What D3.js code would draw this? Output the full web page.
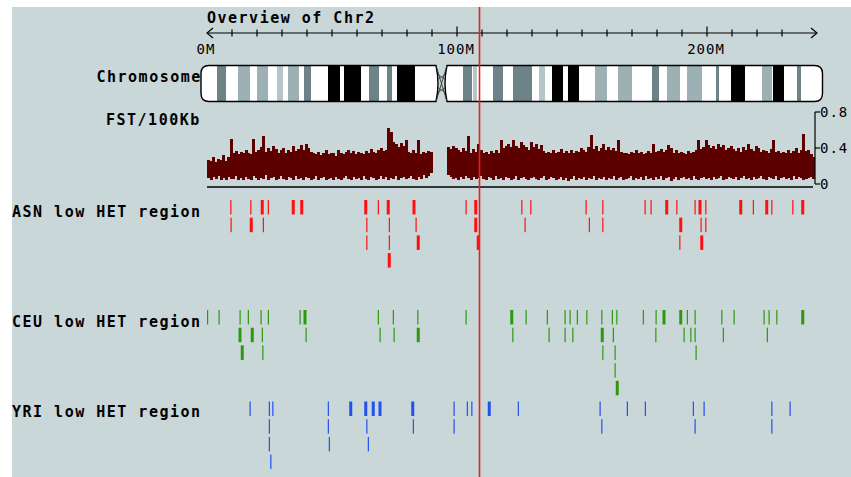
<!DOCTYPE html>
<html><head><meta charset="utf-8">
<script src="https://cdn.jsdelivr.net/npm/d3@7"></script>
<style>
body{margin:0;background:#fff;}
text{font-family:"DejaVu Sans Mono",monospace;fill:#000;}
.bold{font-weight:bold;font-size:15px;letter-spacing:1.5px;}
.small{font-size:14px;letter-spacing:1px;}
</style>
</head><body><svg id="c" width="851" height="477"></svg>
<script>
// ---------------- data ----------------
const chrName = "Chr2";
const chrLength = 243; // Mb
const axisMinorTicks = d3.range(10, 240, 10);
const axisMajorTicks = [100, 200];
const axisLabelValues = [0, 100, 200];
const axisLabels = ["0M", "100M", "200M"];

// cytobands (Mb) and stain class
const bandStart = [4, 12.4, 20, 28, 32.4, 38.8, 48.4, 54.8, 64.8, 72, 76, 102.4, 106.4, 114.4, 122.4, 132.8, 138, 144.4, 155.2, 164.4, 178, 184, 192, 203.6, 209.6, 222, 226.4, 236];
const bandEnd   = [7.6, 17.2, 24.4, 30.4, 36.8, 41.6, 53.2, 61.6, 68.8, 74, 83.2, 106, 108, 118.4, 130, 135.2, 142.4, 148.8, 160, 170, 180.8, 189.2, 198, 204.8, 215.2, 226, 230.8, 237.6];
const bandStain = ["gpos75","gpos50","gpos50","gpos25","gpos50","gpos75","gpos100","gpos100","gpos75","gpos75","gpos100","gpos75","gpos25","gpos75","gpos75","gpos25","gpos100","gpos100","gpos50","gpos50","gpos75","gpos50","gpos50","gpos75","gpos100","gpos50","gpos100","gpos75"];
const centromere = [91.6, 96];

// FST per 1 Mb bin (max and min of the 100Kb values)
const fstTicks = [0, 0.4, 0.8];
const fstTickLabels = ["0", "0.4", "0.8"];
const fstHigh = [
 .27,.26,.30,.25,.28,.27,.32,.26,.30,.50,
 .35,.37,.33,.36,.34,.38,.35,.33,.50,.36,
 .38,.41,.53,.36,.40,.37,.42,.39,.35,.38,
 .40,.34,.38,.36,.42,.37,.39,.43,.38,.45,
 .40,.36,.35,.33,.36,.32,.35,.38,.33,.35,
 .34,.31,.38,.35,.33,.36,.38,.34,.37,.33,
 .36,.35,.33,.37,.34,.39,.36,.35,.38,.40,
 .37,.38,.62,.58,.47,.44,.41,.46,.42,.49,
 .36,.34,.38,.35,.49,.33,.36,.34,.37,.36,
 null,null,null,null,null,null,.41,.39,.42,.40,
 .38,.36,.40,.37,.53,.35,.39,.36,.45,.38,
 .34,.36,.33,.37,.35,.38,.34,.49,.40,.42,
 .45,.41,.49,.42,.40,.47,.43,.41,.38,.47,
 .41,.44,.39,.43,.37,.35,.36,.34,.38,.35,
 .36,.39,.34,.37,.35,.38,.34,.37,.36,.40,
 .38,.36,.41,.54,.39,.42,.37,.40,.45,.38,
 .41,.38,.40,.37,.49,.36,.34,.35,.33,.36,
 .35,.38,.34,.36,.33,.35,.37,.34,.45,.36,
 .37,.39,.36,.38,.43,.40,.35,.38,.34,.36,
 .35,.33,.37,.34,.36,.38,.49,.39,.41,.49,
 .43,.40,.42,.39,.44,.41,.43,.38,.40,.42,
 .39,.37,.40,.36,.41,.38,.45,.39,.37,.42,
 .40,.36,.38,.37,.35,.39,.49,.36,.37,.35,
 .36,.34,.38,.35,.37,.40,.34,.38,.56,.37,
 .38,.33,.30];
const fstLow = [
 .07,.05,.08,.06,.09,.05,.07,.04,.08,.06,
 .06,.09,.05,.07,.04,.08,.06,.05,.09,.07,
 .05,.07,.06,.10,.04,.07,.08,.05,.06,.09,
 .06,.04,.08,.07,.05,.09,.06,.07,.05,.08,
 .07,.05,.06,.09,.04,.07,.08,.05,.06,.07,
 .05,.08,.06,.04,.07,.09,.06,.05,.08,.06,
 .07,.05,.09,.06,.04,.08,.07,.05,.06,.09,
 .06,.08,.05,.07,.06,.09,.05,.07,.08,.06,
 .07,.09,.06,.05,.08,.06,.10,.07,.09,.12,
 null,null,null,null,null,null,.10,.08,.06,.07,
 .05,.08,.06,.09,.07,.05,.08,.06,.07,.09,
 .06,.05,.08,.07,.04,.09,.06,.07,.05,.08,
 .07,.05,.06,.09,.04,.07,.08,.06,.05,.07,
 .08,.06,.04,.07,.09,.05,.06,.08,.07,.05,
 .06,.08,.05,.07,.03,.06,.09,.05,.07,.06,
 .08,.05,.07,.06,.09,.04,.07,.06,.08,.05,
 .07,.06,.09,.05,.07,.08,.04,.06,.07,.09,
 .05,.07,.06,.08,.05,.09,.06,.07,.04,.08,
 .06,.09,.05,.07,.08,.03,.06,.08,.05,.07,
 .08,.06,.07,.05,.09,.06,.04,.07,.08,.06,
 .07,.05,.08,.06,.07,.09,.05,.06,.08,.07,
 .06,.08,.05,.07,.09,.06,.07,.05,.08,.06,
 .07,.09,.06,.05,.08,.07,.06,.09,.05,.07,
 .08,.06,.07,.05,.09,.06,.08,.07,.05,.06,
 .07,.08,.06];

// low heterozygosity regions: [startMb, endMb, lane]
const asnRegions = [
 [9.3,9.7,0],[17.3,17.7,0],[21.5,22.7,0],[24.3,24.7,0],[33.9,35.1,0],[37.3,38.5,0],[62.9,64.1,0],[68.3,68.7,0],[71.9,73.1,0],[82.2,83.4,0],
 [103.4,103.8,0],[106.9,108.1,0],[125.7,126.1,0],[129.3,129.7,0],[151.4,151.8,0],[158.1,158.5,0],[175.0,175.4,0],[177.4,177.8,0],[183.3,184.5,0],
 [187.7,188.1,0],[195.0,195.4,0],[196.6,197.8,0],[199.3,199.7,0],[212.9,214.1,0],[218.3,218.7,0],[223.3,224.5,0],[225.7,226.1,0],[234.1,234.5,0],[237.7,238.9,0],
 [9.4,9.8,1],[17.1,18.3,1],[22.3,22.7,1],[63.7,64.1,1],[72.7,73.1,1],[83.4,83.8,1],[106.9,108.1,1],[127.0,127.4,1],[152.7,153.1,1],[158.1,158.5,1],
 [188.9,190.1,1],[197.4,197.8,1],[199.3,199.7,1],
 [63.7,64.1,2],[72.7,73.1,2],[83.9,85.1,2],[107.9,109.1,2],[188.9,189.3,2],[197.3,198.5,2],
 [72.3,73.5,3]];
const ceuRegions = [
 [0.0,0.3,0],[4.6,5.0,0],[13.0,13.4,0],[16.3,16.7,0],[21.4,21.8,0],[24.3,24.7,0],[37.0,37.4,0],[38.6,39.8,0],[68.3,68.7,0],[74.3,74.7,0],[84.1,84.5,0],
 [103.4,103.8,0],[121.3,122.5,0],[127.4,127.8,0],[135.9,136.3,0],[143.0,143.4,0],[145.0,145.4,0],[147.9,148.3,0],[151.7,152.1,0],[157.7,158.1,0],
 [161.9,162.3,0],[163.7,164.1,0],[174.3,174.7,0],[179.4,179.8,0],[182.2,183.4,0],[188.9,190.1,0],[191.9,192.3,0],[195.0,195.4,0],[205.7,206.1,0],
 [210.6,211.0,0],[222.6,223.0,0],[224.6,225.0,0],[227.7,228.1,0],[237.7,238.9,0],
 [12.6,13.8,1],[17.5,18.7,1],[21.9,22.3,1],[39.4,39.8,1],[69.0,69.4,1],[74.6,75.0,1],[83.9,85.1,1],[122.1,122.5,1],[136.6,137.0,1],[143.0,143.4,1],
 [146.1,146.5,1],[157.5,158.7,1],[162.3,162.7,1],[179.3,179.7,1],[190.6,191.0,1],[193.3,193.7,1],[195.0,195.4,1],[206.3,206.7,1],[223.9,224.3,1],
 [13.5,14.7,2],[22.1,22.5,2],[158.1,158.5,2],[163.0,163.4,2],[195.4,195.8,2],
 [163.0,163.4,3],
 [163.5,164.7,4]];
const yriRegions = [
 [17.0,17.4,0],[24.7,25.1,0],[26.1,26.5,0],[48.3,48.7,0],[56.9,58.1,0],[62.9,64.1,0],[65.9,67.1,0],[68.6,69.8,0],[81.7,82.9,0],[98.6,99.0,0],
 [103.9,104.3,0],[105.7,106.1,0],[112.3,113.5,0],[124.3,124.7,0],[157.0,157.4,0],[167.9,168.3,0],[175.1,175.5,0],[194.3,194.7,0],[198.6,199.0,0],
 [225.7,226.1,0],[233.0,233.4,0],
 [24.7,25.1,1],[48.3,48.7,1],[63.7,64.1,1],[82.3,82.7,1],[98.6,99.0,1],[157.7,158.1,1],[195.0,195.4,1],[225.7,226.1,1],
 [24.7,25.1,2],[48.7,49.1,2],[64.3,64.7,2],
 [25.3,25.7,3]];
const tracks = [
 {label:"ASN low HET region", regions: asnRegions, color:"#ff1010"},
 {label:"CEU low HET region", regions: ceuRegions, color:"#2c990c"},
 {label:"YRI low HET region", regions: yriRegions, color:"#2450f0"}];
const markerMb = 109;

// ---------------- layout ----------------
const svg = d3.select("#c");
svg.append("rect").attr("x",12).attr("y",7).attr("width",839).attr("height",470).attr("fill","#cad7d9");

const x = d3.scaleLinear().domain([0, chrLength]).range([207, 814.5]);

// title + axis
svg.append("text").attr("class","bold").attr("x",207).attr("y",22.5).text("Overview of " + chrName);
const axY = 33;
const ax = svg.append("g").attr("stroke","#000").attr("stroke-width",1.2).attr("fill","none");
ax.append("line").attr("x1",x(0)).attr("x2",817).attr("y1",axY).attr("y2",axY);
ax.append("path").attr("d",`M${x(0)+6},${axY-5}L${x(0)},${axY}L${x(0)+6},${axY+5}`);
ax.append("path").attr("d",`M811,${axY-5}L817,${axY}L811,${axY+5}`);
ax.selectAll(".mn").data(axisMinorTicks.filter(d=>!axisMajorTicks.includes(d))).join("line")
  .attr("x1",d=>x(d)).attr("x2",d=>x(d)).attr("y1",axY-3.5).attr("y2",axY+3.5);
ax.selectAll(".mj").data(axisMajorTicks).join("line")
  .attr("x1",d=>x(d)).attr("x2",d=>x(d)).attr("y1",axY-6.5).attr("y2",axY+3.5);
svg.selectAll(".axl").data(axisLabelValues).join("text").attr("class","small")
  .attr("x",(d,i)=>x(d)-1).attr("y",54).attr("text-anchor","middle").text((d,i)=>axisLabels[i]);

// chromosome ideogram
const y0 = 65.5, y1 = 101.5, r = 8;
const xL = x(0)-6, xR = x(chrLength)+8, c1 = x(centromere[0]), c2 = x(centromere[1]);
const mid = (y0+y1)/2;
const pPath = `M${c1},${y0}L${xL+r},${y0}Q${xL},${y0} ${xL},${y0+r}L${xL},${y1-r}Q${xL},${y1} ${xL+r},${y1}L${c1},${y1}Q${c1+4},${mid} ${c1},${y0}Z`;
const qPath = `M${c2},${y0}L${xR-r},${y0}Q${xR},${y0} ${xR},${y0+r}L${xR},${y1-r}Q${xR},${y1} ${xR-r},${y1}L${c2},${y1}Q${c2-4},${mid} ${c2},${y0}Z`;
const defs = svg.append("defs");
defs.append("clipPath").attr("id","chrclip").selectAll("path").data([pPath,qPath]).join("path").attr("d",d=>d);
svg.append("text").attr("class","bold").attr("x",96.5).attr("y",82).text("Chromosome");
svg.selectAll(".arm").data([pPath,qPath]).join("path").attr("d",d=>d).attr("fill","#fff");
const stainColor = {gpos25:"#b6c5c7", gpos50:"#9db0b3", gpos75:"#6d8388", gpos100:"#000"};
svg.append("g").attr("clip-path","url(#chrclip)").selectAll("rect").data(bandStart).join("rect")
  .attr("x",(d,i)=>x(d)).attr("width",(d,i)=>x(bandEnd[i])-x(d)).attr("y",y0).attr("height",y1-y0)
  .attr("fill",(d,i)=>stainColor[bandStain[i]]);
svg.selectAll(".armo").data([pPath,qPath]).join("path").attr("d",d=>d).attr("fill","none").attr("stroke","#000").attr("stroke-width",1.4);
// centromere hatch
const cen = svg.append("g").attr("stroke","#333").attr("stroke-width",0.9).attr("fill","none");
cen.append("path").attr("d",`M${c1},${y0}L${c2},${y1}M${c2},${y0}L${c1},${y1}`);
cen.append("path").attr("d",`M${c1+2},${y0+9}L${c2-2},${y0+14}M${c2-2},${y0+9}L${c1+2},${y0+14}M${c1+2},${y1-9}L${c2-2},${y1-14}M${c2-2},${y1-9}L${c1+2},${y1-14}`).attr("stroke-width",0.7);

// FST track
svg.append("text").attr("class","bold").attr("x",106).attr("y",125).text("FST/100Kb");
const fy = d3.scaleLinear().domain([0,0.8]).range([184,112]);
svg.append("g").attr("shape-rendering","crispEdges").selectAll("rect")
  .data(fstHigh.map((h,i)=>({mb:i,h,l:fstLow[i]})).filter(d=>d.h!=null)).join("rect")
  .attr("x",d=>x(d.mb)).attr("width",x(1)-x(0)+0.6).attr("y",d=>fy(d.h)).attr("height",d=>fy(d.l)-fy(d.h))
  .attr("fill","#5c0000");
svg.append("line").attr("x1",x(0)).attr("x2",813).attr("y1",187).attr("y2",187).attr("stroke","#000").attr("stroke-width",1.5);
const fa = svg.append("g").attr("stroke","#000").attr("stroke-width",1.2);
fa.append("line").attr("x1",815).attr("x2",815).attr("y1",fy(0.8)).attr("y2",fy(0));
fa.selectAll(".ft").data(fstTicks).join("line").attr("x1",815).attr("x2",820).attr("y1",d=>fy(d)).attr("y2",d=>fy(d));
svg.selectAll(".fl").data(fstTicks).join("text").attr("class","small").attr("x",820).attr("y",d=>fy(d)+5).text((d,i)=>fstTickLabels[i]);

// low HET region tracks
const trackTop = [200, 310, 401.5];
const labelY = [216.5, 326.5, 417];
const laneStep = 17.7, laneH = 14.5;
tracks.forEach((t,k)=>{
  svg.append("text").attr("class","bold").attr("x",12).attr("y",labelY[k]).text(t.label);
  svg.append("g").selectAll("rect").data(t.regions).join("rect")
    .attr("x",d=>x(d[0])).attr("width",d=>Math.max(1.2, x(d[1])-x(d[0])))
    .attr("y",d=>trackTop[k]+d[2]*laneStep).attr("height",laneH).attr("fill",t.color);
});

// marker line
svg.append("line").attr("x1",x(markerMb)).attr("x2",x(markerMb)).attr("y1",7).attr("y2",477)
  .attr("stroke","#ee1c1c").attr("stroke-width",1.6);
</script></body></html>
